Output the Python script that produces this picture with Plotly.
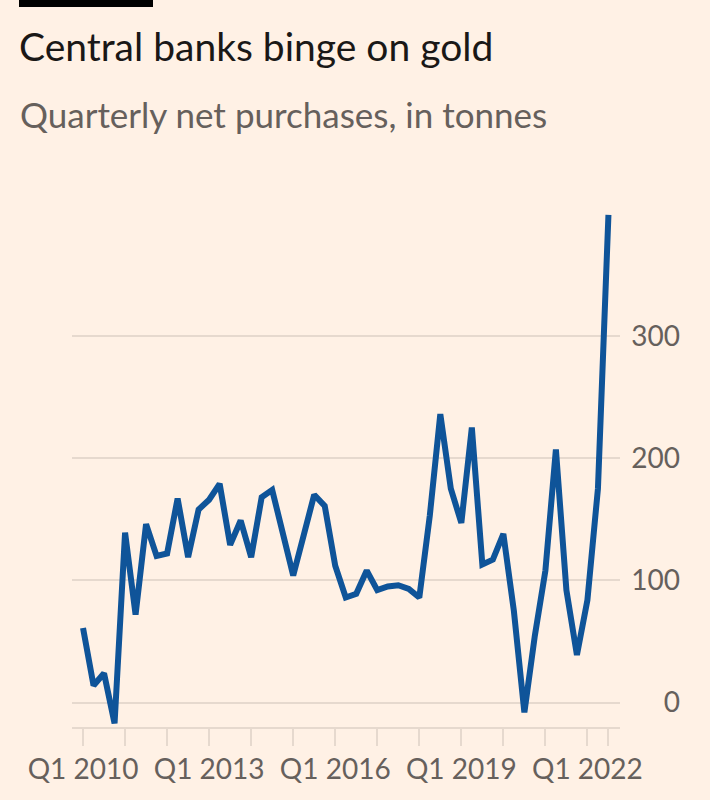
import plotly.graph_objects as go

# ---- data ----
years = list(range(2010, 2023))
quarters = [f"Q{q} {y}" for y in years for q in (1, 2, 3, 4)][:51]  # Q1 2010 .. Q3 2022
net_purchases = [
    61, 14, 24, -17,      # 2010
    139, 72, 146, 120,    # 2011
    122, 167, 119, 158,   # 2012
    166, 179, 129, 149,   # 2013
    119, 168, 174, 139,   # 2014
    104, 137, 170, 161,   # 2015
    112, 86, 89, 108,     # 2016
    92, 95, 96, 93,       # 2017
    86, 153, 236, 175,    # 2018
    147, 225, 113, 117,   # 2019
    138, 75, -8, 55,      # 2020
    108, 207, 92, 39,     # 2021
    84, 175, 399,         # 2022
]
x_tick_labels = ["Q1 2010", "Q1 2013", "Q1 2016", "Q1 2019", "Q1 2022"]
y_ticks = [0, 100, 200, 300]

title = "Central banks binge on gold"
subtitle = "Quarterly net purchases, in tonnes"

# ---- styling ----
BG = "#FFF1E5"
LINE = "#0F5499"
GRID = "#E6D9CE"
TXT = "#66605C"
FONT = "Lato"

W, H = 710, 800
L, R, T, B = 72, 30, 200, 73
pw, ph = W - L - R, H - T - B
PLOT_RIGHT = 620

def px_x(p):
    return (p - L) / pw

def px_y(p):
    return (H - B - p) / ph

tickvals = [quarters[i] for i in range(0, len(quarters), 4)] + [quarters[-1]]
ticktext = [q if q in x_tick_labels else "" for q in tickvals]

y_range = [-19.9, 411.1]

fig = go.Figure()
fig.add_trace(go.Scatter(
    x=quarters, y=net_purchases, mode="lines",
    line=dict(color=LINE, width=6),
    hoverinfo="skip", showlegend=False,
))
fig.add_trace(go.Scatter(
    x=quarters, y=net_purchases, mode="lines", yaxis="y2",
    line=dict(color="rgba(0,0,0,0)", width=0),
    hoverinfo="skip", showlegend=False,
))

fig.update_layout(
    width=W, height=H,
    margin=dict(l=L, r=R, t=T, b=B, autoexpand=False),
    paper_bgcolor=BG, plot_bgcolor=BG,
    font=dict(family=FONT, color=TXT, size=28),
    title=dict(
        text=title, x=19 / W, xanchor="left", xref="container",
        y=1 - 47 / H, yanchor="middle", yref="container",
        font=dict(family=FONT, size=39, color="#1A1817"),
        automargin=False,
    ),
    xaxis=dict(
        type="category",
        domain=[0, (PLOT_RIGHT - L) / pw],
        range=[-1.05, 51.1],
        tickmode="array", tickvals=tickvals, ticktext=ticktext,
        ticks="outside", ticklen=17, tickwidth=1.5, tickcolor=GRID,
        showline=True, linecolor=GRID, linewidth=1.5,
        showgrid=False, zeroline=False, automargin=False,
        tickfont=dict(size=28, color=TXT),
        ticklabelstandoff=0,
    ),
    yaxis=dict(
        range=y_range, tickvals=y_ticks, showticklabels=False,
        showgrid=True, gridcolor=GRID, gridwidth=1.5,
        zeroline=False, ticks="", automargin=False,
    ),
    yaxis2=dict(
        overlaying="y", anchor="free", position=1.0, side="left",
        range=y_range, tickvals=y_ticks, automargin=False, autoshift=False,
        showgrid=False, zeroline=False, showline=False, ticks="",
        tickfont=dict(size=28, color=TXT),
    ),
    annotations=[dict(
        text=subtitle, xref="paper", yref="paper",
        x=px_x(18), y=px_y(114), xanchor="left", yanchor="middle",
        showarrow=False, font=dict(family=FONT, size=35, color=TXT),
    )],
    shapes=[dict(
        type="rect", xref="paper", yref="paper",
        x0=px_x(19), x1=px_x(153), y0=px_y(7), y1=px_y(-2),
        fillcolor="#000000", line=dict(width=0),
    )],
)

fig.write_html(
    "out.html",
    config={"displayModeBar": False},
    post_script="document.body.style.margin='0';document.body.style.background='%s';" % BG,
)
